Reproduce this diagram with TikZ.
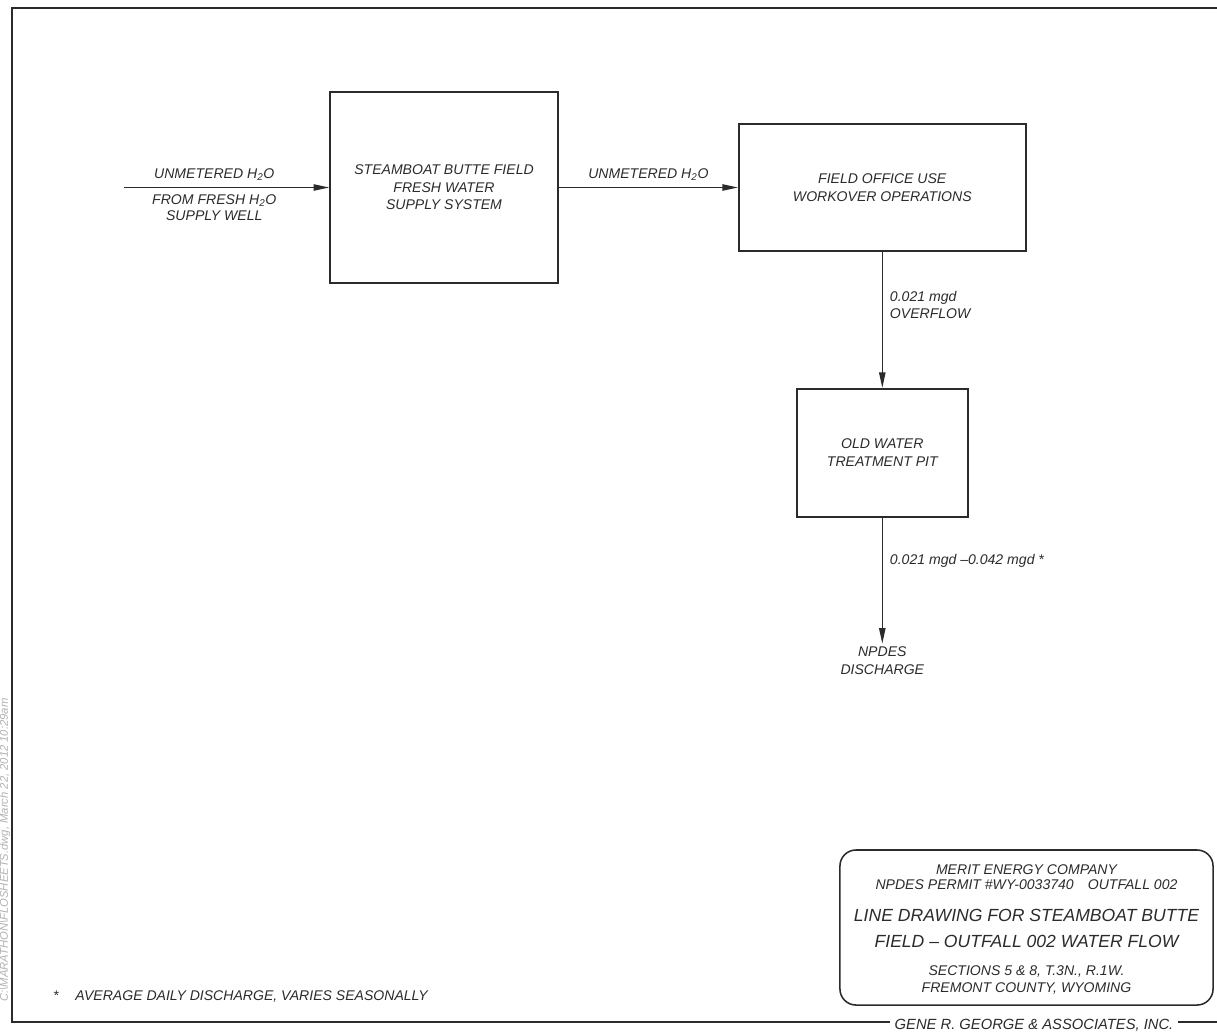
\documentclass[tikz,border=0pt]{standalone}
\usepackage{fontspec}
\setmainfont{Liberation Sans}
\usepackage{xcolor}
\usepackage{tikz}
\usetikzlibrary{arrows.meta, positioning}
\definecolor{ink}{HTML}{2B2B2B}
\newcommand{\hto}{H\textsubscript{2}O}
\newcommand{\tagfont}{\fontsize{10}{12.5}\selectfont\itshape}
\tikzset{
    unit/.style={rectangle, draw=ink, line width=1.2pt, align=center, text=ink, font=\tagfont},
    flow/.style={-{Triangle[length=11pt, width=4.5pt]}, line width=0.9pt, draw=ink},
    tag/.style={align=center, text=ink, font=\tagfont, inner sep=2pt},
    titleblock/.style={rectangle, draw=ink, line width=1.1pt, rounded corners=0.4cm},
    frame/.style={draw=ink, line width=1.6pt},
    stamp/.style={text=gray!60, font=\fontsize{8}{8}\selectfont\itshape},
}

\begin{document}
\begin{tikzpicture}[x=0.025cm, y=-0.025cm]
    \useasboundingbox (0,0) rectangle (1217,1032);

    % Sheet frame
    \draw[frame] (1217,8) -- (12,8) -- (12,1022) -- (1217,1022);
    \node[stamp, rotate=90] (dwgpath) at (5,850) {C:\textbackslash MARATHON\textbackslash FLOSHEETS.dwg, March 22, 2012 10:29am};

    % Supply system
    \node[unit, minimum width=5.7cm, minimum height=4.775cm] (supply) at (444,187.5) {STEAMBOAT BUTTE FIELD\\FRESH WATER\\SUPPLY SYSTEM};
    \coordinate[left=5.125cm of supply.west] (well);

    % Field office
    \node[unit, right=4.475cm of supply, minimum width=7.175cm, minimum height=3.175cm] (office) {FIELD OFFICE USE\\WORKOVER OPERATIONS};

    % Treatment pit
    \node[unit, below=3.4cm of office, minimum width=4.275cm, minimum height=3.2cm] (pit) {OLD WATER\\TREATMENT PIT};

    % Discharge
    \node[tag, below=3.15cm of pit] (npdes) {NPDES\\DISCHARGE};

    % Flows
    \draw[flow] (well) -- node[tag, above, pos=0.44, yshift=0.08cm] (inlbl) {UNMETERED \hto} node[tag, below, pos=0.44, yshift=-0.1cm, font=\fontsize{10}{11}\selectfont\itshape] (welllbl) {FROM FRESH \hto\\SUPPLY WELL} (supply);
    \draw[flow] (supply) -- node[tag, above, yshift=0.08cm] (midlbl) {UNMETERED \hto} (office);
    \draw[flow] (office) -- node[tag, right, pos=0.39, align=left, xshift=3pt] (overlbl) {0.021 mgd\\OVERFLOW} (pit);
    \draw[flow] (pit) -- node[tag, right, pos=0.34, xshift=3pt] (ratelbl) {0.021 mgd --0.042 mgd *} (npdes);

    % Footnote
    \node[tag, anchor=west] (note) at (50,996) {*\hspace{1.2em}AVERAGE DAILY DISCHARGE, VARIES SEASONALLY};

    % Title block
    \node[titleblock, minimum width=9.325cm, minimum height=3.875cm] (tb) at (1026.5,927.5) {};
    \node[tag, font=\fontsize{10}{10.5}\selectfont\itshape] (tbco) at ([yshift=1.26cm]tb.center) {MERIT ENERGY COMPANY\\NPDES PERMIT \#WY-0033740\quad OUTFALL 002};
    \node[tag, font=\fontsize{12.5}{18.5}\selectfont\itshape] (tbname) at ([yshift=-0.02cm]tb.center) {LINE DRAWING FOR STEAMBOAT BUTTE\\FIELD -- OUTFALL 002 WATER FLOW};
    \node[tag, font=\fontsize{10}{12}\selectfont\itshape] (tbloc) at ([yshift=-1.32cm]tb.center) {SECTIONS 5 \& 8, T.3N., R.1W.\\FREMONT COUNTY, WYOMING};

    % Firm name on the frame
    \node[tag, fill=white, anchor=base, inner xsep=3pt, inner ysep=1pt, font=\fontsize{10.5}{11}\selectfont\itshape] (firm) at (1034,1029) {GENE R. GEORGE \& ASSOCIATES, INC.};
\end{tikzpicture}
\end{document}
